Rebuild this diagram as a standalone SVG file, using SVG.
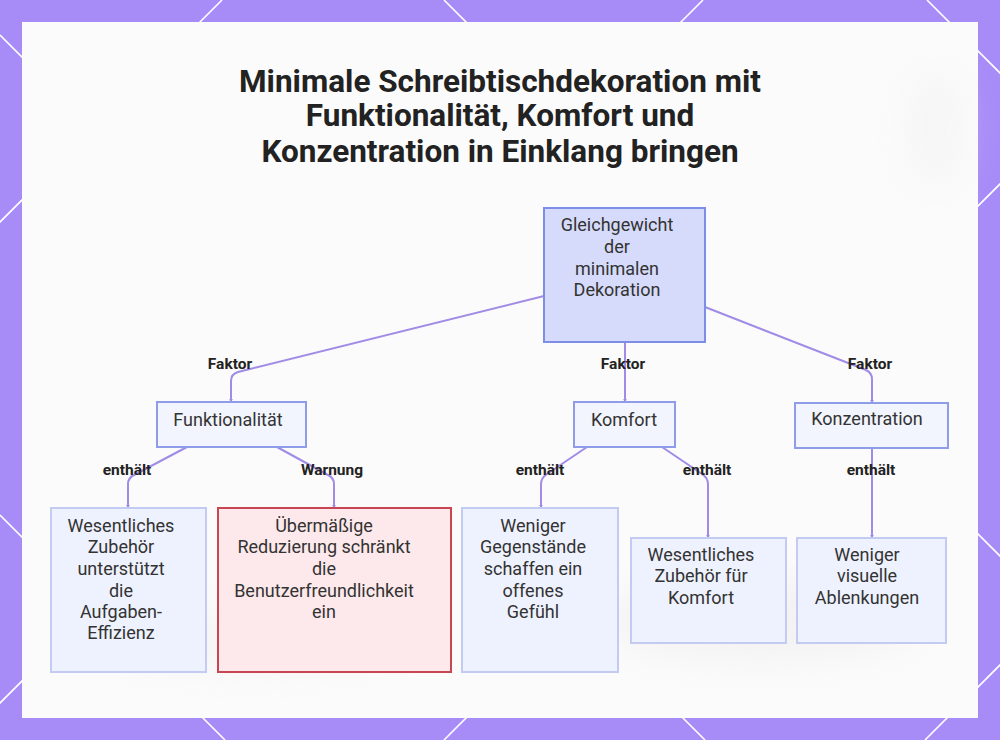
<svg xmlns="http://www.w3.org/2000/svg" width="1000" height="740" viewBox="0 0 1000 740">
  <defs>
    <style>
      .bgline { stroke: #ffffff; stroke-width: 1.6; fill: none; }
      .title { font-family: Roboto, "Liberation Sans", sans-serif; font-weight: 700; font-size: 31.5px; fill: #222222; text-anchor: middle; }
      .ntext { font-family: Roboto, "Liberation Sans", sans-serif; font-size: 18px; fill: #333333; text-anchor: middle; }
      .elabel { font-family: Roboto, "Liberation Sans", sans-serif; font-weight: 700; font-size: 15.5px; fill: #222222; text-anchor: middle; }
      .edge { stroke: #a08ce6; stroke-width: 2; fill: none; marker-end: url(#arrow); }
      .root { fill: #d6dbfb; stroke: #7d8ee6; stroke-width: 2; }
      .mid { fill: #f2f4fe; stroke: #8e9ce9; stroke-width: 2; }
      .leaf { fill: #eef2fe; stroke: #c3cbf3; stroke-width: 2; }
      .warn { fill: #fde9eb; stroke: #c84552; stroke-width: 2; }
    </style>
    <marker id="arrow" viewBox="0 0 6 6" refX="5" refY="3" markerWidth="4" markerHeight="4" orient="auto" markerUnits="userSpaceOnUse">
      <path d="M0,0 L6,3 L0,6 z" fill="#a08ce6"/>
    </marker>
    <filter id="blur" x="-20%" y="-20%" width="140%" height="140%">
      <feGaussianBlur stdDeviation="18"/>
    </filter>
  </defs>

  <!-- background -->
  <rect x="0" y="0" width="1000" height="740" fill="#a78bf7"/>
  <g id="lattice">
    <line class="bgline" x1="222" y1="0" x2="-518" y2="740"/>
    <line class="bgline" x1="703" y1="0" x2="-37" y2="740"/>
    <line class="bgline" x1="1184" y1="0" x2="444" y2="740"/>
    <line class="bgline" x1="1665" y1="0" x2="925" y2="740"/>
    <line class="bgline" x1="0" y1="35" x2="705" y2="740"/>
    <line class="bgline" x1="0" y1="515" x2="225" y2="740"/>
    <line class="bgline" x1="444" y1="0" x2="1184" y2="740"/>
    <line class="bgline" x1="927" y1="0" x2="1667" y2="740"/>
  </g>
  <rect x="22" y="22" width="956" height="696" fill="#fbfbfb"/>
  <g opacity="0.4" filter="url(#blur)">
    <ellipse cx="760" cy="620" rx="160" ry="40" fill="#e6e6e6"/>
    <ellipse cx="935" cy="130" rx="30" ry="60" fill="#eeeeee"/>
    <ellipse cx="250" cy="640" rx="150" ry="30" fill="#ececec"/>
  </g>

  <!-- title -->
  <g id="title">
    <text class="title" x="500" y="92">Minimale Schreibtischdekoration mit</text>
    <text class="title" x="500" y="126">Funktionalität, Komfort und</text>
    <text class="title" x="500" y="162">Konzentration in Einklang bringen</text>
  </g>

  <!-- connectors -->
  <g id="connectors">
    <path class="edge" d="M544,296 L238,372 Q231,374 231,381 L231,402"/>
    <path class="edge" d="M625,342 L625,402"/>
    <path class="edge" d="M705,307 L866,370 Q872,373 872,379 L872,403"/>
    <path class="edge" d="M187,447 L134,475 Q128,478 128,484 L128,508"/>
    <path class="edge" d="M277,447 L328,475 Q334,478 334,484 L334,508"/>
    <path class="edge" d="M587,447 L547,474 Q541,478 541,484 L541,508"/>
    <path class="edge" d="M662,447 L702,474 Q708,478 708,484 L708,538"/>
    <path class="edge" d="M872,448 L872,538"/>
    <text class="elabel" x="230" y="369">Faktor</text>
    <text class="elabel" x="623" y="369">Faktor</text>
    <text class="elabel" x="870" y="369">Faktor</text>
    <text class="elabel" x="127" y="475">enthält</text>
    <text class="elabel" x="332" y="475">Warnung</text>
    <text class="elabel" x="540" y="475">enthält</text>
    <text class="elabel" x="707" y="475">enthält</text>
    <text class="elabel" x="871" y="475">enthält</text>
  </g>

  <!-- nodes -->
  <g id="root">
    <rect class="root" x="544" y="208" width="161" height="134"/>
    <text class="ntext" x="617" y="231">Gleichgewicht</text>
    <text class="ntext" x="617" y="253">der</text>
    <text class="ntext" x="617" y="275">minimalen</text>
    <text class="ntext" x="617" y="296">Dekoration</text>
  </g>
  <g id="funktionalitaet">
    <rect class="mid" x="157" y="402" width="149" height="45"/>
    <text class="ntext" x="228" y="426">Funktionalität</text>
  </g>
  <g id="komfort">
    <rect class="mid" x="574" y="402" width="101" height="45"/>
    <text class="ntext" x="624" y="426">Komfort</text>
  </g>
  <g id="konzentration">
    <rect class="mid" x="795" y="403" width="153" height="45"/>
    <text class="ntext" x="867" y="425">Konzentration</text>
  </g>
  <g id="zubehoer-effizienz">
    <rect class="leaf" x="51" y="508" width="155" height="164"/>
    <text class="ntext" x="121" y="532">Wesentliches</text>
    <text class="ntext" x="121" y="553">Zubehör</text>
    <text class="ntext" x="121" y="575">unterstützt</text>
    <text class="ntext" x="121" y="597">die</text>
    <text class="ntext" x="121" y="618">Aufgaben-</text>
    <text class="ntext" x="121" y="639">Effizienz</text>
  </g>
  <g id="warnung">
    <rect class="warn" x="218" y="508" width="233" height="164"/>
    <text class="ntext" x="324" y="532">Übermäßige</text>
    <text class="ntext" x="324" y="553">Reduzierung schränkt</text>
    <text class="ntext" x="324" y="575">die</text>
    <text class="ntext" x="324" y="597">Benutzerfreundlichkeit</text>
    <text class="ntext" x="324" y="618">ein</text>
  </g>
  <g id="weniger-gegenstaende">
    <rect class="leaf" x="462" y="508" width="156" height="164"/>
    <text class="ntext" x="533" y="532">Weniger</text>
    <text class="ntext" x="533" y="553">Gegenstände</text>
    <text class="ntext" x="533" y="575">schaffen ein</text>
    <text class="ntext" x="533" y="597">offenes</text>
    <text class="ntext" x="533" y="618">Gefühl</text>
  </g>
  <g id="zubehoer-komfort">
    <rect class="leaf" x="631" y="538" width="155" height="105"/>
    <text class="ntext" x="701" y="561">Wesentliches</text>
    <text class="ntext" x="701" y="582">Zubehör für</text>
    <text class="ntext" x="701" y="604">Komfort</text>
  </g>
  <g id="weniger-ablenkungen">
    <rect class="leaf" x="797" y="538" width="149" height="105"/>
    <text class="ntext" x="867" y="561">Weniger</text>
    <text class="ntext" x="867" y="582">visuelle</text>
    <text class="ntext" x="867" y="604">Ablenkungen</text>
  </g>
</svg>
